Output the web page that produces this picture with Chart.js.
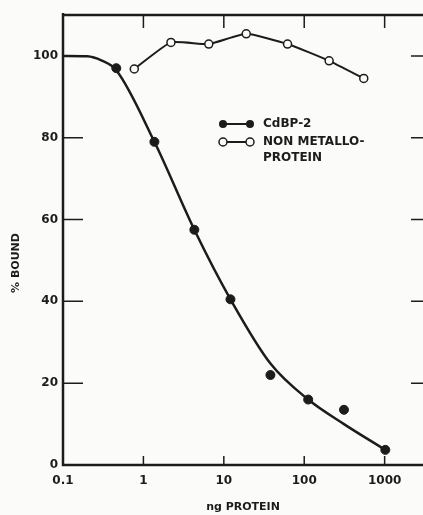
<!DOCTYPE html>
<html>
<head>
<meta charset="utf-8">
<script src="https://cdn.jsdelivr.net/npm/chart.js@4.4.1/dist/chart.umd.min.js"></script>
<style>
  body { margin: 0; background: #fbfbfa; }
  #chart { display: block; }
</style>
</head>
<body>
<canvas id="chart" width="423" height="515"></canvas>
<script>
// CdBP-2 measured points
const cdbpDose = [0.46, 1.37, 4.3, 12.1, 38, 112, 312, 1020];
const cdbpBound = [97, 79, 57.5, 40.5, 22, 16, 13.5, 3.7];

// hand drawn fit through the CdBP-2 points
const fitDose = [0.1, 0.2, 0.3, 0.46, 1.37, 4.3, 12.1, 38, 112, 312, 1020];
const fitBound = [100, 99.9, 98.9, 96.5, 79, 57.5, 40.5, 24.8, 16, 10, 3.7];

// non metallo-protein
const nmDose = [0.77, 2.2, 6.5, 19, 62, 204, 550];
const nmBound = [96.8, 103.3, 102.9, 105.4, 102.9, 98.8, 94.5];

const xTicks = [0.1, 1, 10, 100, 1000];
const xTickLabels = ['0.1', '1', '10', '100', '1000'];
const yTicks = [0, 20, 40, 60, 80, 100];

const ink = '#1c1c1c';
const paper = '#fbfbfa';
const toPoints = (xs, ys) => xs.map((x, i) => ({ x: x, y: ys[i] }));

// frame, inward ticks, y title and the legend box
const framePlugin = {
    id: 'frame',
    afterDraw(chart) {
        const ctx = chart.ctx;
        const area = chart.chartArea;
        const xs = chart.scales.x;
        const ys = chart.scales.y;
        ctx.save();
        ctx.strokeStyle = ink;
        ctx.lineWidth = 2.5;
        ctx.beginPath();
        ctx.moveTo(area.left, area.top);
        ctx.lineTo(area.right, area.top);
        ctx.moveTo(area.left, area.top - 2);
        ctx.lineTo(area.left, area.bottom);
        ctx.lineTo(area.right, area.bottom);
        ctx.stroke();

        ctx.lineWidth = 1.5;
        ctx.beginPath();
        xTicks.slice(1).forEach(v => {
            const px = xs.getPixelForValue(v);
            ctx.moveTo(px, area.bottom);
            ctx.lineTo(px, area.bottom - 9);
            ctx.moveTo(px, area.top);
            ctx.lineTo(px, area.top + 13);
        });
        yTicks.slice(1).forEach(v => {
            const py = ys.getPixelForValue(v);
            if (v < 100) {
                ctx.moveTo(area.left, py);
                ctx.lineTo(area.left + 20, py);
            }
            ctx.moveTo(area.right - 12, py);
            ctx.lineTo(area.right, py);
        });
        ctx.stroke();

        // y axis title
        ctx.fillStyle = ink;
        ctx.font = 'bold 11px "DejaVu Sans"';
        ctx.textAlign = 'center';
        ctx.textBaseline = 'middle';
        ctx.translate(16, 263);
        ctx.rotate(-Math.PI / 2);
        ctx.fillText('% BOUND', 0, 0);
        ctx.restore();

        // legend
        ctx.save();
        ctx.strokeStyle = ink;
        ctx.fillStyle = ink;
        ctx.lineWidth = 2;
        const lx = 223, lx2 = 250;
        ctx.beginPath();
        ctx.moveTo(lx, 124); ctx.lineTo(lx2, 124);
        ctx.moveTo(lx, 142); ctx.lineTo(lx2, 142);
        ctx.stroke();
        [lx, lx2].forEach(cx => {
            ctx.beginPath();
            ctx.arc(cx, 124, 4, 0, Math.PI * 2);
            ctx.fill();
            ctx.beginPath();
            ctx.arc(cx, 142, 4, 0, Math.PI * 2);
            ctx.fillStyle = paper;
            ctx.fill();
            ctx.lineWidth = 1.5;
            ctx.stroke();
            ctx.fillStyle = ink;
        });
        ctx.font = 'bold 12px "DejaVu Sans"';
        ctx.textAlign = 'left';
        ctx.textBaseline = 'middle';
        ctx.fillText('CdBP-2', 263, 124);
        ctx.fillText('NON METALLO-', 263, 142);
        ctx.fillText('PROTEIN', 263, 158);
        ctx.restore();
    }
};

new Chart(document.getElementById('chart'), {
    type: 'line',
    data: {
        datasets: [
            {
                label: 'fit',
                data: toPoints(fitDose, fitBound),
                borderColor: ink,
                borderWidth: 2.5,
                pointRadius: 0,
                cubicInterpolationMode: 'monotone'
            },
            {
                label: 'CdBP-2',
                data: toPoints(cdbpDose, cdbpBound),
                showLine: false,
                pointRadius: 4.5,
                pointBackgroundColor: ink,
                pointBorderColor: ink,
                pointBorderWidth: 1
            },
            {
                label: 'NON METALLO-PROTEIN',
                data: toPoints(nmDose, nmBound),
                borderColor: ink,
                borderWidth: 2,
                tension: 0.15,
                pointRadius: 4,
                pointBackgroundColor: paper,
                pointBorderColor: ink,
                pointBorderWidth: 1.5
            }
        ]
    },
    options: {
        responsive: false,
        animation: false,
        clip: false,
        layout: { autoPadding: false, padding: { top: 15, right: 0, left: 0, bottom: 0 } },
        plugins: {
            legend: { display: false },
            tooltip: { enabled: false }
        },
        scales: {
            x: {
                type: 'logarithmic',
                min: 0.1,
                max: 3000,
                grid: { display: false, drawTicks: false },
                border: { display: false },
                afterBuildTicks: scale => {
                    scale.ticks = xTicks.map(v => ({ value: v }));
                },
                afterFit: scale => {
                    scale.height = 50;
                    scale.paddingLeft = 0;
                    scale.paddingRight = 0;
                },
                ticks: {
                    autoSkip: false,
                    maxRotation: 0,
                    padding: 9,
                    color: ink,
                    font: { family: 'DejaVu Sans', size: 12, weight: 'bold' },
                    callback: (value, i) => xTickLabels[i]
                },
                title: {
                    display: true,
                    text: 'ng PROTEIN',
                    color: ink,
                    padding: { top: 0, bottom: 1 },
                    font: { family: 'DejaVu Sans', size: 11, weight: 'bold' }
                }
            },
            y: {
                min: 0,
                max: 110,
                grid: { display: false, drawTicks: false },
                border: { display: false },
                afterBuildTicks: scale => {
                    scale.ticks = yTicks.map(v => ({ value: v }));
                },
                afterFit: scale => {
                    scale.width = 63;
                    scale.paddingTop = 0;
                    scale.paddingBottom = 0;
                },
                ticks: {
                    padding: 5,
                    color: ink,
                    font: { family: 'DejaVu Sans', size: 12, weight: 'bold' }
                }
            }
        }
    },
    plugins: [framePlugin]
});
</script>
</body>
</html>
